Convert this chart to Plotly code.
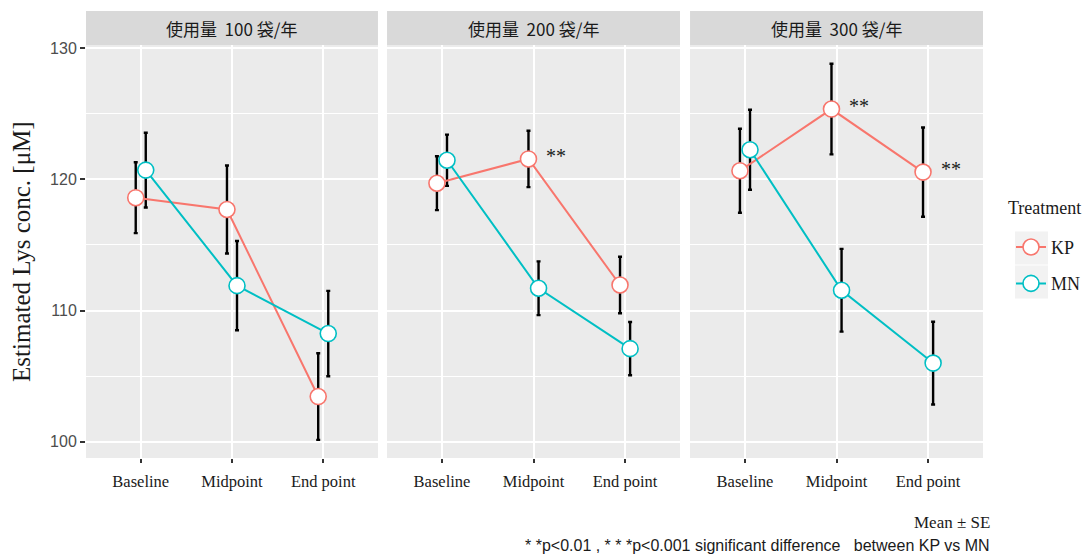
import plotly.graph_objects as go

# ---------------- data ----------------
timepoints = ["Baseline", "Midpoint", "End point"]
panels = ["使用量\u00a0\u00a0100 袋/年", "使用量\u00a0\u00a0200 袋/年", "使用量\u00a0\u00a0300 袋/年"]

kp_mean = [[118.6, 117.7, 103.45], [119.7, 121.55, 111.95], [120.65, 125.35, 120.55]]
kp_se = [[2.7, 3.35, 3.3], [2.05, 2.15, 2.15], [3.2, 3.45, 3.4]]
mn_mean = [[120.7, 111.9, 108.25], [121.45, 111.7, 107.1], [122.25, 111.55, 106.0]]
mn_se = [[2.85, 3.4, 3.25], [1.95, 2.05, 2.03], [3.05, 3.15, 3.15]]

# significance marks: (panel index, timepoint index, label)
sig_marks = [(1, 1, "**"), (2, 1, "**"), (2, 2, "**")]

y_ticks = [100, 110, 120, 130]
y_minor = [105, 115, 125]

# ---------------- style ----------------
KP_COL = "#F8766D"
MN_COL = "#00BFC4"
PANEL_BG = "#EBEBEB"
STRIP_BG = "#D9D9D9"
SERIF = "Liberation Serif, Times New Roman, serif"
SANS = "Liberation Sans, Arial, sans-serif"
CJK = "Noto Sans CJK JP, Noto Sans CJK SC, sans-serif"

dodge = 0.055
domains = [(0.0, 0.3255), (0.3356, 0.6622), (0.6734, 1.0)]
y_range = [98.77, 130.23]

fig = go.Figure()

for p in range(3):
    xa = "x" if p == 0 else f"x{p+1}"
    ya = "y" if p == 0 else f"y{p+1}"
    xs_kp = [i + 1 - dodge for i in range(3)]
    xs_mn = [i + 1 + dodge for i in range(3)]
    # error bars first (underneath)
    for xs, m, se in [(xs_kp, kp_mean[p], kp_se[p]), (xs_mn, mn_mean[p], mn_se[p])]:
        fig.add_trace(go.Scatter(
            x=xs, y=m, mode="markers", marker=dict(size=1, opacity=0),
            error_y=dict(type="data", array=se, visible=True, color="black",
                         thickness=2.4, width=2),
            showlegend=False, hoverinfo="skip", xaxis=xa, yaxis=ya))
    # lines + points
    fig.add_trace(go.Scatter(
        x=xs_kp, y=kp_mean[p], mode="lines+markers", name="KP",
        line=dict(color=KP_COL, width=2),
        marker=dict(symbol="circle", size=16, color="white", line=dict(color=KP_COL, width=1.6)),
        showlegend=(p == 0), legendgroup="KP", xaxis=xa, yaxis=ya))
    fig.add_trace(go.Scatter(
        x=xs_mn, y=mn_mean[p], mode="lines+markers", name="MN",
        line=dict(color=MN_COL, width=2),
        marker=dict(symbol="circle", size=16, color="white", line=dict(color=MN_COL, width=1.6)),
        showlegend=(p == 0), legendgroup="MN", xaxis=xa, yaxis=ya))

layout = dict(
    width=1088, height=557,
    margin=dict(l=86, r=105, t=45, b=99, autoexpand=False),
    paper_bgcolor="white", plot_bgcolor=PANEL_BG,
    showlegend=True,
    legend=dict(
        x=(1011 - 86) / 897, xanchor="left", y=0.555, yanchor="top",
        bgcolor="rgba(0,0,0,0)",
        font=dict(family=SERIF, size=18, color="#1A1A1A"),
        itemwidth=30,
    ),
)

for p in range(3):
    xk = "xaxis" if p == 0 else f"xaxis{p+1}"
    yk = "yaxis" if p == 0 else f"yaxis{p+1}"
    layout[xk] = dict(
        domain=list(domains[p]), range=[0.4, 3.6], anchor="y" if p == 0 else f"y{p+1}",
        tickmode="array", tickvals=[1, 2, 3], ticktext=timepoints,
        showgrid=True, gridcolor="white", gridwidth=1.6, zeroline=False,
        ticks="outside", ticklen=4, tickwidth=2, tickcolor="#333333",
        ticklabelstandoff=4,
        tickfont=dict(family=SERIF, size=16.5, color="#1A1A1A"),
        showline=False, fixedrange=True,
    )
    layout[yk] = dict(
        domain=[0, 1], range=y_range, anchor="x" if p == 0 else f"x{p+1}",
        tickmode="array", tickvals=y_ticks,
        showticklabels=(p == 0), ticks="outside" if p == 0 else "",
        ticklen=5, tickwidth=2, tickcolor="#333333",
        tickfont=dict(family=SANS, size=16, color="#4D4D4D"),
        showgrid=True, gridcolor="white", gridwidth=1.6, zeroline=False,
        minor=dict(tickvals=y_minor, showgrid=True, gridcolor="white", gridwidth=0.8, ticks=""),
        showline=False, fixedrange=True,
    )
    if p > 0:
        layout[yk]["matches"] = "y"

fig.update_layout(**layout)

shapes = []
annotations = []
for p in range(3):
    xd = "x domain" if p == 0 else f"x{p+1} domain"
    yd = "y domain" if p == 0 else f"y{p+1} domain"
    shapes.append(dict(type="rect", xref=xd, yref=yd, x0=0, x1=1, y0=1.0, y1=1.0823,
                       fillcolor=STRIP_BG, line=dict(width=0), layer="below"))
    annotations.append(dict(text=panels[p], xref=xd, yref=yd, x=0.5, y=1.041,
                            xanchor="center", yanchor="middle", showarrow=False,
                            font=dict(family=CJK, size=17, color="#1A1A1A")))

for p, t, lab in sig_marks:
    xa = "x" if p == 0 else f"x{p+1}"
    ya = "y" if p == 0 else f"y{p+1}"
    annotations.append(dict(text=lab, xref=xa, yref=ya, x=t + 1 + 0.25, y=kp_mean[p][t] + 0.2,
                            xanchor="center", yanchor="middle", showarrow=False,
                            font=dict(family=SERIF, size=20, color="#1A1A1A")))

# y-axis title
annotations.append(dict(text="Estimated Lys conc. [μM]", xref="paper", yref="paper",
                        x=-0.072, y=0.5, xanchor="center", yanchor="middle", textangle=-90,
                        showarrow=False, font=dict(family=SERIF, size=25, color="#1A1A1A")))

# legend title
annotations.append(dict(text="Treatment", xref="paper", yref="paper",
                        x=(1006 - 86) / 897, y=(458 - 208) / 413, xanchor="left", yanchor="middle",
                        showarrow=False, font=dict(family=SERIF, size=18, color="#1A1A1A")))

# footnotes
annotations.append(dict(text="Mean ± SE", xref="paper", yref="paper",
                        x=1.0095, y=-0.157, xanchor="right", yanchor="middle",
                        showarrow=False, font=dict(family=SERIF, size=17, color="#1A1A1A")))
annotations.append(dict(text="* *p&lt;0.01 , * * *p&lt;0.001 significant difference\u00a0\u00a0 between KP vs MN",
                        xref="paper", yref="paper",
                        x=1.0095, y=-0.213, xanchor="right", yanchor="middle",
                        showarrow=False, font=dict(family=SANS, size=16, color="#1A1A1A")))

# legend key backgrounds
for yc in [248, 282]:
    shapes.append(dict(type="rect", xref="paper", yref="paper",
                       x0=(1015 - 86) / 897, x1=(1048 - 86) / 897,
                       y0=(458 - (yc + 16.5)) / 413, y1=(458 - (yc - 16.5)) / 413,
                       fillcolor="#F2F2F2", line=dict(width=0), layer="below"))

fig.update_layout(shapes=shapes, annotations=annotations)

fig.write_html("out.html")
